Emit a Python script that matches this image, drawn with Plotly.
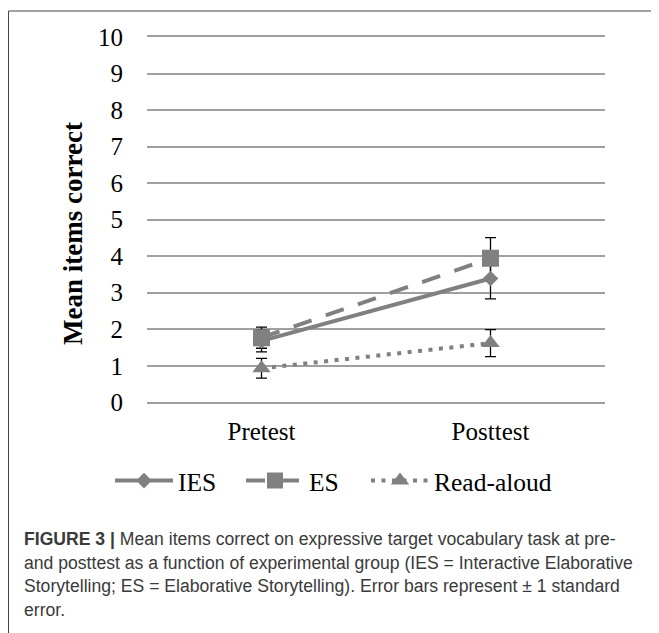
import plotly.graph_objects as go

W, H = 659, 633

categories = ["Pretest", "Posttest"]
series_names = ["IES", "ES", "Read-aloud"]
ies_means = [1.68, 3.39]
ies_se = [0.30, 0.56]
es_means = [1.77, 3.94]
es_se = [0.29, 0.57]
ra_means = [0.93, 1.62]
ra_se = [0.27, 0.37]
y_ticks = list(range(0, 11))

means = [ies_means, es_means, ra_means]
ses = [ies_se, es_se, ra_se]
symbols = ["diamond", "square", "triangle-up"]
sizes = [12, 17, 16]
dashes = ["solid", "19px,15px", "4px,6.5px"]
legend_ids = ["legend", "legend2", "legend3"]
legend_x_px = [110, 241, 366]

GRAY = "#808080"
GRID = "#a0a0a0"
SERIF = "Liberation Serif"
x_pos = list(range(len(categories)))

def px_x(p):
    return p / W

def px_y(p):
    return 1 - p / H

fig = go.Figure()

# error bars first (drawn under the markers)
for m, s in zip(means, ses):
    fig.add_trace(go.Scatter(
        x=x_pos, y=m, mode="markers",
        marker=dict(size=1, opacity=0),
        error_y=dict(type="data", array=s, visible=True, color="black",
                     thickness=1.3, width=5.5),
        showlegend=False, hoverinfo="skip"))

for name, m, sym, sz, d, lg in zip(series_names, means, symbols, sizes,
                                   dashes, legend_ids):
    fig.add_trace(go.Scatter(
        x=x_pos, y=m, mode="lines+markers", name=name, legend=lg,
        line=dict(color=GRAY, width=4, dash=d),
        marker=dict(symbol=sym, size=sz, color=GRAY)))

caption_lines = [
    "<b>FIGURE 3 |</b> Mean items correct on expressive target vocabulary task at pre-",
    "and posttest as a function of experimental group (IES = Interactive Elaborative",
    "Storytelling; ES = Elaborative Storytelling). Error bars represent \u00b1 1 standard",
    "error.",
]
caption_y = [539, 562.5, 586, 609.5]

annotations = [dict(
    text="<b>Mean items correct</b>", textangle=-90,
    x=px_x(73), y=px_y(234), xref="paper", yref="paper",
    xanchor="center", yanchor="middle",
    showarrow=False, font=dict(family=SERIF, size=27, color="black"))]
for t, yy in zip(caption_lines, caption_y):
    annotations.append(dict(
        text=t, x=px_x(22), y=px_y(yy), xref="paper", yref="paper",
        xanchor="left", yanchor="middle", showarrow=False,
        font=dict(family="Liberation Sans", size=17.6, color="#3a3a3a")))

legend_common = dict(
    orientation="h", y=px_y(481), xanchor="left", yanchor="middle",
    font=dict(family=SERIF, size=25.5, color="black"),
    itemwidth=58, bgcolor="rgba(0,0,0,0)")
legends = {lg: dict(legend_common, x=px_x(xp))
           for lg, xp in zip(legend_ids, legend_x_px)}

fig.update_layout(
    width=W, height=H,
    margin=dict(l=0, r=0, t=0, b=0, pad=0),
    paper_bgcolor="white", plot_bgcolor="white",
    xaxis=dict(
        domain=[px_x(147), px_x(605)], range=[-0.5, 1.5],
        tickvals=x_pos, ticktext=categories, showgrid=False,
        zeroline=False, showline=True, mirror=True, linecolor=GRID,
        linewidth=1.5, ticks="", automargin=False,
        tickfont=dict(family=SERIF, size=25, color="black"),
        ticklabelstandoff=6, fixedrange=True),
    yaxis=dict(
        domain=[px_y(402.3), px_y(37)], range=[0, 10],
        tickvals=y_ticks, showgrid=True, gridcolor=GRID, gridwidth=1.5,
        zeroline=False, showline=False, ticks="", automargin=False,
        tickfont=dict(family=SERIF, size=25, color="black"),
        ticklabelstandoff=23, fixedrange=True),
    annotations=annotations,
    shapes=[
        dict(type="line", xref="paper", yref="paper",
             x0=px_x(8.5), x1=px_x(8.5), y0=0, y1=px_y(11),
             line=dict(color="#444444", width=1)),
        dict(type="line", xref="paper", yref="paper",
             x0=px_x(8.5), x1=px_x(651), y0=px_y(11), y1=px_y(11),
             line=dict(color="#444444", width=1)),
    ],
    showlegend=True,
    **legends,
)

fig.write_html(
    "out.html",
    config={"displayModeBar": False},
    post_script="document.body.style.margin='0';"
                "document.body.style.overflow='hidden';")
